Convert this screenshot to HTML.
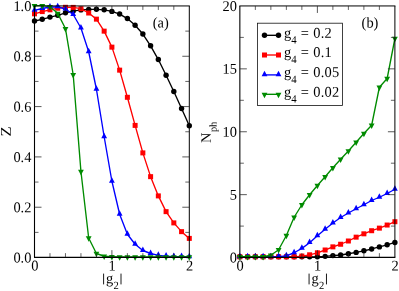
<!DOCTYPE html>
<html><head><meta charset="utf-8"><style>
html,body{margin:0;padding:0;background:#fff;}
svg{display:block;will-change:transform;opacity:0.999}
text{text-rendering:geometricPrecision;font-family:"Liberation Serif",serif;font-size:14.4px;fill:#000}
</style></head><body>
<svg width="399" height="291" viewBox="0 0 399 291">
<rect width="399" height="291" fill="#fff"/>
<polyline points="34.50,21.00 42.24,19.30 49.98,17.10 57.72,15.30 65.46,12.80 73.20,11.10 80.94,9.90 88.68,9.40 96.42,9.30 104.16,9.80 111.90,11.40 119.64,14.05 127.38,18.55 135.12,25.30 142.86,34.05 150.60,45.80 158.34,59.55 166.08,75.30 173.82,91.55 181.56,108.55 189.30,125.80" fill="none" stroke="#000" stroke-width="1.35" stroke-linejoin="round"/>
<circle cx="34.50" cy="21.00" r="2.7" fill="#000"/>
<circle cx="42.24" cy="19.30" r="2.7" fill="#000"/>
<circle cx="49.98" cy="17.10" r="2.7" fill="#000"/>
<circle cx="57.72" cy="15.30" r="2.7" fill="#000"/>
<circle cx="65.46" cy="12.80" r="2.7" fill="#000"/>
<circle cx="73.20" cy="11.10" r="2.7" fill="#000"/>
<circle cx="80.94" cy="9.90" r="2.7" fill="#000"/>
<circle cx="88.68" cy="9.40" r="2.7" fill="#000"/>
<circle cx="96.42" cy="9.30" r="2.7" fill="#000"/>
<circle cx="104.16" cy="9.80" r="2.7" fill="#000"/>
<circle cx="111.90" cy="11.40" r="2.7" fill="#000"/>
<circle cx="119.64" cy="14.05" r="2.7" fill="#000"/>
<circle cx="127.38" cy="18.55" r="2.7" fill="#000"/>
<circle cx="135.12" cy="25.30" r="2.7" fill="#000"/>
<circle cx="142.86" cy="34.05" r="2.7" fill="#000"/>
<circle cx="150.60" cy="45.80" r="2.7" fill="#000"/>
<circle cx="158.34" cy="59.55" r="2.7" fill="#000"/>
<circle cx="166.08" cy="75.30" r="2.7" fill="#000"/>
<circle cx="173.82" cy="91.55" r="2.7" fill="#000"/>
<circle cx="181.56" cy="108.55" r="2.7" fill="#000"/>
<circle cx="189.30" cy="125.80" r="2.7" fill="#000"/>
<polyline points="34.50,13.80 42.24,11.60 49.98,9.80 57.72,8.20 65.46,7.30 73.20,7.40 80.94,8.70 88.68,13.00 96.42,19.15 104.16,31.15 111.90,47.15 119.64,70.15 127.38,97.30 135.12,125.40 142.86,152.90 150.60,176.65 158.34,195.90 166.08,211.65 173.82,222.90 181.56,231.65 189.30,238.40" fill="none" stroke="#ff0000" stroke-width="1.35" stroke-linejoin="round"/>
<rect x="32.00" y="11.30" width="5" height="5" fill="#ff0000"/>
<rect x="39.74" y="9.10" width="5" height="5" fill="#ff0000"/>
<rect x="47.48" y="7.30" width="5" height="5" fill="#ff0000"/>
<rect x="55.22" y="5.70" width="5" height="5" fill="#ff0000"/>
<rect x="62.96" y="4.80" width="5" height="5" fill="#ff0000"/>
<rect x="70.70" y="4.90" width="5" height="5" fill="#ff0000"/>
<rect x="78.44" y="6.20" width="5" height="5" fill="#ff0000"/>
<rect x="86.18" y="10.50" width="5" height="5" fill="#ff0000"/>
<rect x="93.92" y="16.65" width="5" height="5" fill="#ff0000"/>
<rect x="101.66" y="28.65" width="5" height="5" fill="#ff0000"/>
<rect x="109.40" y="44.65" width="5" height="5" fill="#ff0000"/>
<rect x="117.14" y="67.65" width="5" height="5" fill="#ff0000"/>
<rect x="124.88" y="94.80" width="5" height="5" fill="#ff0000"/>
<rect x="132.62" y="122.90" width="5" height="5" fill="#ff0000"/>
<rect x="140.36" y="150.40" width="5" height="5" fill="#ff0000"/>
<rect x="148.10" y="174.15" width="5" height="5" fill="#ff0000"/>
<rect x="155.84" y="193.40" width="5" height="5" fill="#ff0000"/>
<rect x="163.58" y="209.15" width="5" height="5" fill="#ff0000"/>
<rect x="171.32" y="220.40" width="5" height="5" fill="#ff0000"/>
<rect x="179.06" y="229.15" width="5" height="5" fill="#ff0000"/>
<rect x="186.80" y="235.90" width="5" height="5" fill="#ff0000"/>
<polyline points="34.50,10.30 42.24,8.50 49.98,7.00 57.72,6.80 65.46,9.00 73.20,14.50 80.94,28.00 88.68,51.75 96.42,89.25 104.16,136.75 111.90,181.25 119.64,214.25 127.38,234.25 135.12,244.25 142.86,250.50 150.60,253.50 158.34,255.30 166.08,256.10 173.82,256.50 181.56,256.70 189.30,256.80" fill="none" stroke="#0000ff" stroke-width="1.35" stroke-linejoin="round"/>
<path d="M34.50 6.20L31.60 11.70L37.40 11.70Z" fill="#0000ff"/>
<path d="M42.24 4.40L39.34 9.90L45.14 9.90Z" fill="#0000ff"/>
<path d="M49.98 2.90L47.08 8.40L52.88 8.40Z" fill="#0000ff"/>
<path d="M57.72 2.70L54.82 8.20L60.62 8.20Z" fill="#0000ff"/>
<path d="M65.46 4.90L62.56 10.40L68.36 10.40Z" fill="#0000ff"/>
<path d="M73.20 10.40L70.30 15.90L76.10 15.90Z" fill="#0000ff"/>
<path d="M80.94 23.90L78.04 29.40L83.84 29.40Z" fill="#0000ff"/>
<path d="M88.68 47.65L85.78 53.15L91.58 53.15Z" fill="#0000ff"/>
<path d="M96.42 85.15L93.52 90.65L99.32 90.65Z" fill="#0000ff"/>
<path d="M104.16 132.65L101.26 138.15L107.06 138.15Z" fill="#0000ff"/>
<path d="M111.90 177.15L109.00 182.65L114.80 182.65Z" fill="#0000ff"/>
<path d="M119.64 210.15L116.74 215.65L122.54 215.65Z" fill="#0000ff"/>
<path d="M127.38 230.15L124.48 235.65L130.28 235.65Z" fill="#0000ff"/>
<path d="M135.12 240.15L132.22 245.65L138.02 245.65Z" fill="#0000ff"/>
<path d="M142.86 246.40L139.96 251.90L145.76 251.90Z" fill="#0000ff"/>
<path d="M150.60 249.40L147.70 254.90L153.50 254.90Z" fill="#0000ff"/>
<path d="M158.34 251.20L155.44 256.70L161.24 256.70Z" fill="#0000ff"/>
<path d="M166.08 252.00L163.18 257.50L168.98 257.50Z" fill="#0000ff"/>
<path d="M173.82 252.40L170.92 257.90L176.72 257.90Z" fill="#0000ff"/>
<path d="M181.56 252.60L178.66 258.10L184.46 258.10Z" fill="#0000ff"/>
<path d="M189.30 252.70L186.40 258.20L192.20 258.20Z" fill="#0000ff"/>
<polyline points="34.50,5.65 42.24,5.65 49.98,6.65 57.72,13.35 65.46,28.55 73.20,74.75 80.94,171.50 88.68,238.00 96.42,253.50 104.16,256.25 111.90,256.55 119.64,256.80 127.38,256.80 135.12,256.80 142.86,256.80 150.60,256.80 158.34,256.80 166.08,256.80 173.82,256.80 181.56,256.80 189.30,256.80" fill="none" stroke="#008b00" stroke-width="1.35" stroke-linejoin="round"/>
<path d="M34.50 9.50L31.60 4.00L37.40 4.00Z" fill="#008b00"/>
<path d="M42.24 9.50L39.34 4.00L45.14 4.00Z" fill="#008b00"/>
<path d="M49.98 10.50L47.08 5.00L52.88 5.00Z" fill="#008b00"/>
<path d="M57.72 17.20L54.82 11.70L60.62 11.70Z" fill="#008b00"/>
<path d="M65.46 32.40L62.56 26.90L68.36 26.90Z" fill="#008b00"/>
<path d="M73.20 78.60L70.30 73.10L76.10 73.10Z" fill="#008b00"/>
<path d="M80.94 175.35L78.04 169.85L83.84 169.85Z" fill="#008b00"/>
<path d="M88.68 241.85L85.78 236.35L91.58 236.35Z" fill="#008b00"/>
<path d="M96.42 257.35L93.52 251.85L99.32 251.85Z" fill="#008b00"/>
<path d="M104.16 260.10L101.26 254.60L107.06 254.60Z" fill="#008b00"/>
<path d="M111.90 260.40L109.00 254.90L114.80 254.90Z" fill="#008b00"/>
<path d="M119.64 260.65L116.74 255.15L122.54 255.15Z" fill="#008b00"/>
<path d="M127.38 260.65L124.48 255.15L130.28 255.15Z" fill="#008b00"/>
<path d="M135.12 260.65L132.22 255.15L138.02 255.15Z" fill="#008b00"/>
<path d="M142.86 260.65L139.96 255.15L145.76 255.15Z" fill="#008b00"/>
<path d="M150.60 260.65L147.70 255.15L153.50 255.15Z" fill="#008b00"/>
<path d="M158.34 260.65L155.44 255.15L161.24 255.15Z" fill="#008b00"/>
<path d="M166.08 260.65L163.18 255.15L168.98 255.15Z" fill="#008b00"/>
<path d="M173.82 260.65L170.92 255.15L176.72 255.15Z" fill="#008b00"/>
<path d="M181.56 260.65L178.66 255.15L184.46 255.15Z" fill="#008b00"/>
<path d="M189.30 260.65L186.40 255.15L192.20 255.15Z" fill="#008b00"/>
<polyline points="239.85,256.80 247.60,256.80 255.35,256.80 263.11,256.80 270.86,256.80 278.61,256.80 286.37,256.80 294.12,256.80 301.87,256.80 309.62,256.80 317.38,256.80 325.13,256.35 332.88,255.60 340.63,255.00 348.38,253.75 356.14,252.41 363.89,250.82 371.64,248.97 379.39,246.88 387.15,244.79 394.90,242.45" fill="none" stroke="#000" stroke-width="1.35" stroke-linejoin="round"/>
<circle cx="239.85" cy="256.80" r="2.7" fill="#000"/>
<circle cx="247.60" cy="256.80" r="2.7" fill="#000"/>
<circle cx="255.35" cy="256.80" r="2.7" fill="#000"/>
<circle cx="263.11" cy="256.80" r="2.7" fill="#000"/>
<circle cx="270.86" cy="256.80" r="2.7" fill="#000"/>
<circle cx="278.61" cy="256.80" r="2.7" fill="#000"/>
<circle cx="286.37" cy="256.80" r="2.7" fill="#000"/>
<circle cx="294.12" cy="256.80" r="2.7" fill="#000"/>
<circle cx="301.87" cy="256.80" r="2.7" fill="#000"/>
<circle cx="309.62" cy="256.80" r="2.7" fill="#000"/>
<circle cx="317.38" cy="256.80" r="2.7" fill="#000"/>
<circle cx="325.13" cy="256.35" r="2.7" fill="#000"/>
<circle cx="332.88" cy="255.60" r="2.7" fill="#000"/>
<circle cx="340.63" cy="255.00" r="2.7" fill="#000"/>
<circle cx="348.38" cy="253.75" r="2.7" fill="#000"/>
<circle cx="356.14" cy="252.41" r="2.7" fill="#000"/>
<circle cx="363.89" cy="250.82" r="2.7" fill="#000"/>
<circle cx="371.64" cy="248.97" r="2.7" fill="#000"/>
<circle cx="379.39" cy="246.88" r="2.7" fill="#000"/>
<circle cx="387.15" cy="244.79" r="2.7" fill="#000"/>
<circle cx="394.90" cy="242.45" r="2.7" fill="#000"/>
<polyline points="239.85,256.80 247.60,256.80 255.35,256.80 263.11,256.80 270.86,256.80 278.61,256.80 286.37,256.80 294.12,256.80 301.87,256.05 309.62,254.80 317.38,252.80 325.13,250.00 332.88,246.85 340.63,244.25 348.38,241.00 356.14,237.16 363.89,233.82 371.64,230.72 379.39,228.13 387.15,225.04 394.90,221.70" fill="none" stroke="#ff0000" stroke-width="1.35" stroke-linejoin="round"/>
<rect x="237.35" y="254.30" width="5" height="5" fill="#ff0000"/>
<rect x="245.10" y="254.30" width="5" height="5" fill="#ff0000"/>
<rect x="252.85" y="254.30" width="5" height="5" fill="#ff0000"/>
<rect x="260.61" y="254.30" width="5" height="5" fill="#ff0000"/>
<rect x="268.36" y="254.30" width="5" height="5" fill="#ff0000"/>
<rect x="276.11" y="254.30" width="5" height="5" fill="#ff0000"/>
<rect x="283.87" y="254.30" width="5" height="5" fill="#ff0000"/>
<rect x="291.62" y="254.30" width="5" height="5" fill="#ff0000"/>
<rect x="299.37" y="253.55" width="5" height="5" fill="#ff0000"/>
<rect x="307.12" y="252.30" width="5" height="5" fill="#ff0000"/>
<rect x="314.88" y="250.30" width="5" height="5" fill="#ff0000"/>
<rect x="322.63" y="247.50" width="5" height="5" fill="#ff0000"/>
<rect x="330.38" y="244.35" width="5" height="5" fill="#ff0000"/>
<rect x="338.13" y="241.75" width="5" height="5" fill="#ff0000"/>
<rect x="345.88" y="238.50" width="5" height="5" fill="#ff0000"/>
<rect x="353.64" y="234.66" width="5" height="5" fill="#ff0000"/>
<rect x="361.39" y="231.32" width="5" height="5" fill="#ff0000"/>
<rect x="369.14" y="228.22" width="5" height="5" fill="#ff0000"/>
<rect x="376.89" y="225.63" width="5" height="5" fill="#ff0000"/>
<rect x="384.65" y="222.54" width="5" height="5" fill="#ff0000"/>
<rect x="392.40" y="219.20" width="5" height="5" fill="#ff0000"/>
<polyline points="239.85,256.80 247.60,256.80 255.35,256.80 263.11,256.80 270.86,256.80 278.61,256.70 286.37,255.80 294.12,252.75 301.87,248.40 309.62,242.70 317.38,235.80 325.13,229.25 332.88,223.00 340.63,217.50 348.38,213.00 356.14,208.75 363.89,204.75 371.64,200.50 379.39,197.25 387.15,193.50 394.90,189.25" fill="none" stroke="#0000ff" stroke-width="1.35" stroke-linejoin="round"/>
<path d="M239.85 252.70L236.95 258.20L242.75 258.20Z" fill="#0000ff"/>
<path d="M247.60 252.70L244.70 258.20L250.50 258.20Z" fill="#0000ff"/>
<path d="M255.35 252.70L252.45 258.20L258.25 258.20Z" fill="#0000ff"/>
<path d="M263.11 252.70L260.21 258.20L266.01 258.20Z" fill="#0000ff"/>
<path d="M270.86 252.70L267.96 258.20L273.76 258.20Z" fill="#0000ff"/>
<path d="M278.61 252.60L275.71 258.10L281.51 258.10Z" fill="#0000ff"/>
<path d="M286.37 251.70L283.47 257.20L289.26 257.20Z" fill="#0000ff"/>
<path d="M294.12 248.65L291.22 254.15L297.02 254.15Z" fill="#0000ff"/>
<path d="M301.87 244.30L298.97 249.80L304.77 249.80Z" fill="#0000ff"/>
<path d="M309.62 238.60L306.72 244.10L312.52 244.10Z" fill="#0000ff"/>
<path d="M317.38 231.70L314.48 237.20L320.27 237.20Z" fill="#0000ff"/>
<path d="M325.13 225.15L322.23 230.65L328.03 230.65Z" fill="#0000ff"/>
<path d="M332.88 218.90L329.98 224.40L335.78 224.40Z" fill="#0000ff"/>
<path d="M340.63 213.40L337.73 218.90L343.53 218.90Z" fill="#0000ff"/>
<path d="M348.38 208.90L345.49 214.40L351.28 214.40Z" fill="#0000ff"/>
<path d="M356.14 204.65L353.24 210.15L359.04 210.15Z" fill="#0000ff"/>
<path d="M363.89 200.65L360.99 206.15L366.79 206.15Z" fill="#0000ff"/>
<path d="M371.64 196.40L368.74 201.90L374.54 201.90Z" fill="#0000ff"/>
<path d="M379.39 193.15L376.50 198.65L382.29 198.65Z" fill="#0000ff"/>
<path d="M387.15 189.40L384.25 194.90L390.05 194.90Z" fill="#0000ff"/>
<path d="M394.90 185.15L392.00 190.65L397.80 190.65Z" fill="#0000ff"/>
<polyline points="239.85,256.75 247.60,256.75 255.35,256.75 263.11,256.75 270.86,255.25 278.61,249.75 286.37,235.50 294.12,217.25 301.87,204.75 309.62,194.75 317.38,185.50 325.13,176.75 332.88,167.75 340.63,159.25 348.38,151.00 356.14,142.25 363.89,133.50 371.64,125.25 379.39,87.25 387.15,78.50 394.90,38.50" fill="none" stroke="#008b00" stroke-width="1.35" stroke-linejoin="round"/>
<path d="M239.85 260.60L236.95 255.10L242.75 255.10Z" fill="#008b00"/>
<path d="M247.60 260.60L244.70 255.10L250.50 255.10Z" fill="#008b00"/>
<path d="M255.35 260.60L252.45 255.10L258.25 255.10Z" fill="#008b00"/>
<path d="M263.11 260.60L260.21 255.10L266.01 255.10Z" fill="#008b00"/>
<path d="M270.86 259.10L267.96 253.60L273.76 253.60Z" fill="#008b00"/>
<path d="M278.61 253.60L275.71 248.10L281.51 248.10Z" fill="#008b00"/>
<path d="M286.37 239.35L283.47 233.85L289.26 233.85Z" fill="#008b00"/>
<path d="M294.12 221.10L291.22 215.60L297.02 215.60Z" fill="#008b00"/>
<path d="M301.87 208.60L298.97 203.10L304.77 203.10Z" fill="#008b00"/>
<path d="M309.62 198.60L306.72 193.10L312.52 193.10Z" fill="#008b00"/>
<path d="M317.38 189.35L314.48 183.85L320.27 183.85Z" fill="#008b00"/>
<path d="M325.13 180.60L322.23 175.10L328.03 175.10Z" fill="#008b00"/>
<path d="M332.88 171.60L329.98 166.10L335.78 166.10Z" fill="#008b00"/>
<path d="M340.63 163.10L337.73 157.60L343.53 157.60Z" fill="#008b00"/>
<path d="M348.38 154.85L345.49 149.35L351.28 149.35Z" fill="#008b00"/>
<path d="M356.14 146.10L353.24 140.60L359.04 140.60Z" fill="#008b00"/>
<path d="M363.89 137.35L360.99 131.85L366.79 131.85Z" fill="#008b00"/>
<path d="M371.64 129.10L368.74 123.60L374.54 123.60Z" fill="#008b00"/>
<path d="M379.39 91.10L376.50 85.60L382.29 85.60Z" fill="#008b00"/>
<path d="M387.15 82.35L384.25 76.85L390.05 76.85Z" fill="#008b00"/>
<path d="M394.90 42.35L392.00 36.85L397.80 36.85Z" fill="#008b00"/>
<path d="M34.0 5.95H189.8" stroke="#000" stroke-width="1.0"/>
<path d="M34.0 257.34999999999997H189.8" stroke="#000" stroke-width="1.3"/>
<path d="M34.5 5.95V257.15" stroke="#000" stroke-width="1.1"/>
<path d="M189.3 5.95V257.15" stroke="#000" stroke-width="1.0"/>
<path d="M49.98 257.15v-4.0M49.98 5.95v4.0" stroke="#222" stroke-width="0.7"/>
<path d="M65.46 257.15v-4.0M65.46 5.95v4.0" stroke="#222" stroke-width="0.7"/>
<path d="M80.94 257.15v-4.0M80.94 5.95v4.0" stroke="#222" stroke-width="0.7"/>
<path d="M96.42 257.15v-4.0M96.42 5.95v4.0" stroke="#222" stroke-width="0.7"/>
<path d="M111.90 257.15v-7M111.90 5.95v7" stroke="#222" stroke-width="0.75"/>
<path d="M127.38 257.15v-4.0M127.38 5.95v4.0" stroke="#222" stroke-width="0.7"/>
<path d="M142.86 257.15v-4.0M142.86 5.95v4.0" stroke="#222" stroke-width="0.7"/>
<path d="M158.34 257.15v-4.0M158.34 5.95v4.0" stroke="#222" stroke-width="0.7"/>
<path d="M173.82 257.15v-4.0M173.82 5.95v4.0" stroke="#222" stroke-width="0.7"/>
<path d="M34.5 232.39h4.0M189.3 232.39h-4.0" stroke="#222" stroke-width="0.7"/>
<path d="M34.5 207.23h7M189.3 207.23h-7" stroke="#222" stroke-width="0.75"/>
<path d="M34.5 182.07h4.0M189.3 182.07h-4.0" stroke="#222" stroke-width="0.7"/>
<path d="M34.5 156.91h7M189.3 156.91h-7" stroke="#222" stroke-width="0.75"/>
<path d="M34.5 131.75h4.0M189.3 131.75h-4.0" stroke="#222" stroke-width="0.7"/>
<path d="M34.5 106.59h7M189.3 106.59h-7" stroke="#222" stroke-width="0.75"/>
<path d="M34.5 81.43h4.0M189.3 81.43h-4.0" stroke="#222" stroke-width="0.7"/>
<path d="M34.5 56.27h7M189.3 56.27h-7" stroke="#222" stroke-width="0.75"/>
<path d="M34.5 31.11h4.0M189.3 31.11h-4.0" stroke="#222" stroke-width="0.7"/>
<path d="M239.35 5.95H395.4" stroke="#000" stroke-width="1.0"/>
<path d="M239.35 257.34999999999997H395.4" stroke="#000" stroke-width="1.3"/>
<path d="M239.85 5.95V257.15" stroke="#000" stroke-width="1.1"/>
<path d="M394.9 5.95V257.15" stroke="#000" stroke-width="1.0"/>
<path d="M255.35 257.15v-4.0M255.35 5.95v4.0" stroke="#222" stroke-width="0.7"/>
<path d="M270.86 257.15v-4.0M270.86 5.95v4.0" stroke="#222" stroke-width="0.7"/>
<path d="M286.37 257.15v-4.0M286.37 5.95v4.0" stroke="#222" stroke-width="0.7"/>
<path d="M301.87 257.15v-4.0M301.87 5.95v4.0" stroke="#222" stroke-width="0.7"/>
<path d="M317.38 257.15v-7M317.38 5.95v7" stroke="#222" stroke-width="0.75"/>
<path d="M332.88 257.15v-4.0M332.88 5.95v4.0" stroke="#222" stroke-width="0.7"/>
<path d="M348.38 257.15v-4.0M348.38 5.95v4.0" stroke="#222" stroke-width="0.7"/>
<path d="M363.89 257.15v-4.0M363.89 5.95v4.0" stroke="#222" stroke-width="0.7"/>
<path d="M379.39 257.15v-4.0M379.39 5.95v4.0" stroke="#222" stroke-width="0.7"/>
<path d="M239.85 226.10h4.0M394.9 226.10h-4.0" stroke="#222" stroke-width="0.7"/>
<path d="M239.85 194.65h7M394.9 194.65h-7" stroke="#222" stroke-width="0.75"/>
<path d="M239.85 163.20h4.0M394.9 163.20h-4.0" stroke="#222" stroke-width="0.7"/>
<path d="M239.85 131.75h7M394.9 131.75h-7" stroke="#222" stroke-width="0.75"/>
<path d="M239.85 100.30h4.0M394.9 100.30h-4.0" stroke="#222" stroke-width="0.7"/>
<path d="M239.85 68.85h7M394.9 68.85h-7" stroke="#222" stroke-width="0.75"/>
<path d="M239.85 37.40h4.0M394.9 37.40h-4.0" stroke="#222" stroke-width="0.7"/>
<rect x="257.4" y="23.2" width="85.2" height="82.2" fill="#fff" stroke="#111" stroke-width="0.8"/>
<path d="M264.5 35.3H278.5" stroke="#000" stroke-width="1.35"/>
<circle cx="264.50" cy="35.30" r="2.7" fill="#000"/>
<circle cx="278.50" cy="35.30" r="2.7" fill="#000"/>
<text transform="translate(284,37.7) rotate(0.05) scale(1,1.035)">g<tspan font-size="10.8" dy="5.7">4</tspan><tspan x="16.7" dy="-5.7">=</tspan><tspan x="29.3" letter-spacing="0.2">0.2</tspan></text>
<path d="M264.5 55.0H278.5" stroke="#ff0000" stroke-width="1.35"/>
<rect x="262.00" y="52.50" width="5" height="5" fill="#ff0000"/>
<rect x="276.00" y="52.50" width="5" height="5" fill="#ff0000"/>
<text transform="translate(284,57.0) rotate(0.05) scale(1,1.035)">g<tspan font-size="10.8" dy="5.7">4</tspan><tspan x="16.7" dy="-5.7">=</tspan><tspan x="29.3" letter-spacing="0.2">0.1</tspan></text>
<path d="M264.5 74.9H278.5" stroke="#0000ff" stroke-width="1.35"/>
<path d="M264.50 70.80L261.60 76.30L267.40 76.30Z" fill="#0000ff"/>
<path d="M278.50 70.80L275.60 76.30L281.40 76.30Z" fill="#0000ff"/>
<text transform="translate(284,77.0) rotate(0.05) scale(1,1.035)">g<tspan font-size="10.8" dy="5.7">4</tspan><tspan x="16.7" dy="-5.7">=</tspan><tspan x="29.3" letter-spacing="0.2">0.05</tspan></text>
<path d="M264.5 94.3H278.5" stroke="#008b00" stroke-width="1.35"/>
<path d="M264.50 98.15L261.60 92.65L267.40 92.65Z" fill="#008b00"/>
<path d="M278.50 98.15L275.60 92.65L281.40 92.65Z" fill="#008b00"/>
<text transform="translate(284,96.7) rotate(0.05) scale(1,1.035)">g<tspan font-size="10.8" dy="5.7">4</tspan><tspan x="16.7" dy="-5.7">=</tspan><tspan x="29.3" letter-spacing="0.2">0.02</tspan></text>
<text transform="translate(31.4,262.60) rotate(0.05) scale(1,1.035)" text-anchor="end" >0.0</text>
<text transform="translate(31.4,212.28) rotate(0.05) scale(1,1.035)" text-anchor="end" >0.2</text>
<text transform="translate(31.4,161.96) rotate(0.05) scale(1,1.035)" text-anchor="end" >0.4</text>
<text transform="translate(31.4,111.64) rotate(0.05) scale(1,1.035)" text-anchor="end" >0.6</text>
<text transform="translate(31.4,61.32) rotate(0.05) scale(1,1.035)" text-anchor="end" >0.8</text>
<text transform="translate(31.4,11.00) rotate(0.05) scale(1,1.035)" text-anchor="end" >1.0</text>
<text transform="translate(237.0,262.55) rotate(0.05) scale(1,1.035)" text-anchor="end" >0</text>
<text transform="translate(237.0,199.65) rotate(0.05) scale(1,1.035)" text-anchor="end" >5</text>
<text transform="translate(237.0,136.75) rotate(0.05) scale(1,1.035)" text-anchor="end" >10</text>
<text transform="translate(237.0,73.85) rotate(0.05) scale(1,1.035)" text-anchor="end" >15</text>
<text transform="translate(237.0,10.95) rotate(0.05) scale(1,1.035)" text-anchor="end" >20</text>
<text transform="translate(34.80,270.6) rotate(0.05) scale(1,1.035)" text-anchor="middle" >0</text>
<text transform="translate(112.20,270.6) rotate(0.05) scale(1,1.035)" text-anchor="middle" >1</text>
<text transform="translate(189.60,270.6) rotate(0.05) scale(1,1.035)" text-anchor="middle" >2</text>
<text transform="translate(112.30,283.2) rotate(0.05) scale(1,1.035)"><tspan x="-6.3">g</tspan><tspan x="1.3" font-size="10.6" dy="5.7">2</tspan></text>
<path d="M103.60 273.6V284.4M121.00 273.6V284.4" stroke="#000" stroke-width="0.9"/>
<text transform="translate(240.15,270.6) rotate(0.05) scale(1,1.035)" text-anchor="middle" >0</text>
<text transform="translate(317.68,270.6) rotate(0.05) scale(1,1.035)" text-anchor="middle" >1</text>
<text transform="translate(395.20,270.6) rotate(0.05) scale(1,1.035)" text-anchor="middle" >2</text>
<text transform="translate(317.77,283.2) rotate(0.05) scale(1,1.035)"><tspan x="-6.3">g</tspan><tspan x="1.3" font-size="10.6" dy="5.7">2</tspan></text>
<path d="M309.07 273.6V284.4M326.47 273.6V284.4" stroke="#000" stroke-width="0.9"/>
<text transform="translate(160.8,27.5) rotate(0.05) scale(1,1.035)" text-anchor="middle" >(a)</text>
<text transform="translate(370,27.5) rotate(0.05) scale(1,1.035)" text-anchor="middle" >(b)</text>
<text transform="translate(10.7,131.4) rotate(-89.95) scale(1.15,1.03)" text-anchor="middle">Z</text>
<text transform="translate(210.8,132.3) rotate(-89.95)" text-anchor="middle">N<tspan font-size="10.4" dy="5.8" dx="0.4">ph</tspan></text>
</svg>
</body></html>
